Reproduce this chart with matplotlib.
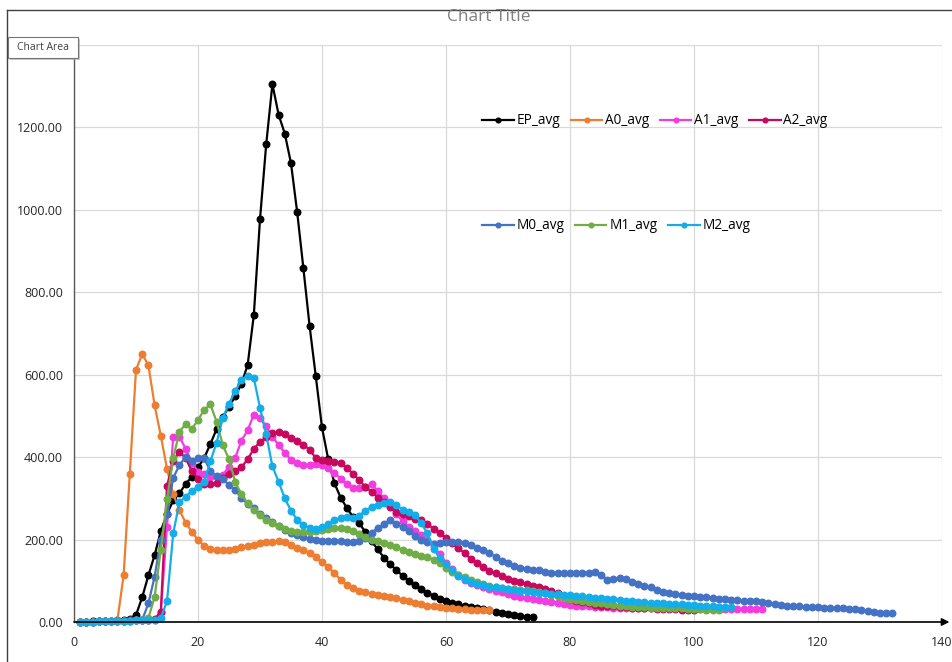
import numpy as np
import matplotlib
matplotlib.use("Agg")
import matplotlib.pyplot as plt
from matplotlib.lines import Line2D
from matplotlib.patches import Rectangle

plt.rcParams['font.family'] = ['Open Sans', 'DejaVu Sans']

# Series values (x = 1, 2, 3, ... for every series)
ep_avg = [0, 1, 2, 2, 3, 3, 4, 5, 8, 17, 60, 113, 162, 221, 262, 295, 312, 335, 352, 375,
          398, 432, 468, 498, 522, 548, 578, 623, 744, 977, 1159, 1305, 1231, 1185, 1113, 994,
          858, 718, 596, 472, 395, 337, 302, 277, 255, 240, 218, 196, 176, 156, 140, 126, 112,
          100, 89, 79, 71, 64, 57, 52, 47, 43, 40, 37, 34, 31, 28, 25, 22, 19, 17, 15, 13, 11]

a0_avg = [0, 1, 1, 2, 2, 3, 4, 113, 359, 612, 650, 623, 526, 452, 372, 310, 272, 241, 219,
          199, 185, 177, 174, 174, 175, 178, 181, 185, 188, 191, 193, 195, 196, 193, 187, 179,
          174, 168, 158, 146, 134, 118, 103, 90, 82, 76, 72, 68, 66, 64, 61, 58, 54, 50, 46,
          43, 40, 38, 36, 34, 33, 32, 31, 30, 30, 29, 29]

a1_avg = [0, 1, 1, 2, 2, 3, 3, 3, 4, 4, 5, 5, 6, 25, 230, 450, 450, 420, 387, 365, 360, 353,
          353, 357, 377, 398, 440, 465, 503, 494, 475, 449, 430, 410, 394, 385, 380, 380, 383,
          380, 373, 362, 348, 334, 326, 324, 328, 334, 318, 300, 282, 262, 244, 231, 220, 211,
          198, 184, 164, 144, 128, 115, 103, 95, 89, 84, 80, 76, 72, 68, 64, 61, 58, 55, 53,
          50, 48, 46, 44, 42, 40, 39, 38, 37, 36, 36, 35, 35, 35, 34, 34, 34, 34, 33, 33, 33,
          33, 33, 32, 32, 32, 32, 32, 32, 31, 31, 31, 31, 31, 31, 31]

a2_avg = [0, 1, 1, 2, 2, 3, 3, 3, 4, 4, 5, 5, 7, 25, 330, 390, 413, 398, 366, 348, 336, 336,
          338, 350, 360, 366, 375, 395, 420, 437, 448, 458, 462, 455, 446, 438, 430, 418, 398,
          393, 390, 389, 386, 374, 360, 344, 328, 316, 302, 290, 278, 268, 262, 257, 251, 247,
          238, 226, 215, 204, 191, 179, 167, 153, 143, 134, 124, 118, 111, 105, 100, 96, 92,
          88, 86, 81, 76, 70, 63, 56, 52, 48, 45, 42, 40, 39, 38, 37, 36, 35, 34, 34, 33, 32,
          32, 31, 31, 30, 30, 30]

m0_avg = [0, 1, 1, 2, 2, 2, 3, 3, 3, 4, 5, 45, 110, 200, 262, 350, 380, 401, 390, 397, 397,
          366, 355, 346, 333, 320, 302, 286, 276, 262, 252, 242, 232, 223, 216, 211, 207, 202,
          199, 197, 196, 196, 197, 195, 194, 196, 205, 217, 228, 238, 247, 238, 230, 220, 208,
          200, 194, 190, 191, 194, 195, 195, 192, 186, 180, 174, 167, 158, 149, 142, 136, 132,
          129, 127, 125, 122, 120, 120, 119, 118, 118, 119, 120, 121, 114, 103, 104, 106, 104,
          97, 92, 88, 84, 78, 73, 70, 68, 65, 63, 62, 61, 61, 59, 57, 56, 54, 53, 52, 51, 50,
          48, 46, 44, 42, 40, 39, 38, 37, 36, 36, 35, 34, 34, 33, 32, 31, 28, 27, 25, 23, 22, 21]

m1_avg = [0, 1, 1, 2, 2, 2, 3, 3, 3, 4, 5, 10, 60, 175, 298, 397, 462, 480, 468, 490, 515,
          528, 486, 429, 395, 340, 310, 288, 272, 259, 248, 240, 232, 226, 222, 219, 219, 219,
          221, 223, 226, 228, 228, 226, 220, 213, 206, 200, 196, 192, 187, 181, 175, 169, 165,
          161, 157, 151, 143, 130, 122, 115, 108, 102, 96, 91, 87, 84, 82, 80, 79, 78, 77, 76,
          74, 70, 66, 62, 59, 57, 54, 51, 49, 47, 45, 43, 41, 40, 38, 37, 37, 36, 35, 35, 34,
          34, 33, 33, 32, 31, 31, 30, 30, 29]

m2_avg = [0, 1, 1, 2, 2, 2, 3, 3, 3, 4, 4, 5, 5, 10, 50, 215, 290, 304, 318, 328, 340, 390,
          435, 495, 530, 560, 588, 598, 592, 520, 455, 378, 340, 300, 270, 248, 235, 228, 226,
          230, 237, 247, 253, 254, 252, 258, 270, 279, 284, 288, 292, 284, 272, 266, 259, 240,
          215, 178, 155, 140, 126, 112, 104, 98, 93, 89, 86, 84, 82, 80, 78, 76, 75, 73, 71,
          70, 68, 67, 66, 65, 63, 62, 61, 59, 58, 57, 55, 54, 52, 50, 49, 48, 47, 46, 45, 44,
          44, 43, 42, 41, 40, 39, 38, 37, 37, 36]

series_names = ['EP_avg', 'A0_avg', 'A1_avg', 'A2_avg', 'M0_avg', 'M1_avg', 'M2_avg']
series_data = [ep_avg, a0_avg, a1_avg, a2_avg, m0_avg, m1_avg, m2_avg]
series_colors = ['#000000', '#ED7D31', '#F23CE0', '#C8075E', '#4472C4', '#70AD47', '#13AEEA']

x_ticks = [0, 20, 40, 60, 80, 100, 120, 140]
y_ticks = [0, 200, 400, 600, 800, 1000, 1200, 1400]

# Figure
W, H = 953, 662
fig = plt.figure(figsize=(W / 100, H / 100), dpi=100)
ax = fig.add_axes([74 / W, 1 - 622 / H, (942 - 74) / W, (622 - 45) / H])

for name, vals, col in zip(series_names, series_data, series_colors):
    xs = np.arange(1, len(vals) + 1)
    ax.plot(xs, vals, '-o', color=col, lw=1.6, ms=4.7, label=name, clip_on=False)

ax.set_xlim(0, 140)
ax.set_ylim(0, 1400)
ax.set_xticks(x_ticks)
ax.set_yticks(y_ticks)
# the top label (1400.00) sits under the "Chart Area" tooltip in the reference
ax.set_yticklabels([f'{v:.2f}' if v < 1400 else '' for v in y_ticks])
ax.grid(True, color='#D9D9D9', lw=0.9)
ax.set_axisbelow(True)
for s in ['top', 'right', 'bottom']:
    ax.spines[s].set_visible(False)
ax.spines['left'].set_color('#595959')
ax.spines['left'].set_linewidth(1.0)
ax.tick_params(length=0, labelsize=9, colors='#262626', pad=8)
ax.tick_params(axis='x', pad=10)

# x axis with arrow head
ax.annotate('', xy=(141.2, 0), xytext=(0, 0), xycoords='data',
            arrowprops=dict(arrowstyle='-|>', color='black', lw=1.2,
                            mutation_scale=11, shrinkA=0, shrinkB=0),
            annotation_clip=False)

# Legend, two rows placed apart
def leg_handles(idx):
    return [Line2D([], [], color=series_colors[i], lw=1.6, marker='o', ms=3.4) for i in idx]

leg1 = fig.legend(leg_handles(range(4)), series_names[:4], loc='center left',
                  bbox_to_anchor=(470 / W, 1 - 121 / H), ncol=4, frameon=False,
                  fontsize=9.8, handlelength=2.3, handletextpad=0.2, columnspacing=0.8)
leg2 = fig.legend(leg_handles(range(4, 7)), series_names[4:], loc='center left',
                  bbox_to_anchor=(470 / W, 1 - 226 / H), ncol=3, frameon=False,
                  fontsize=9.8, handlelength=2.3, handletextpad=0.2, columnspacing=0.8)

# Title
fig.text(489 / W, 1 - 17 / H, 'Chart Title', ha='center', va='center',
         fontsize=12.5, color='#7F7F7F')

# chart border
fig.add_artist(Line2D([7 / W, 7 / W], [0, 1 - 10 / H], color='#404040', lw=1.0))
fig.add_artist(Line2D([7 / W, 1], [1 - 10 / H, 1 - 10 / H], color='#404040', lw=1.0))

# "Chart Area" tooltip
fig.add_artist(Rectangle((10 / W, 1 - 60 / H), 70 / W, 21 / H, transform=fig.transFigure,
                         facecolor='#A6A6A6', edgecolor='none', alpha=0.6, zorder=9))
fig.add_artist(Rectangle((8 / W, 1 - 58 / H), 70 / W, 21 / H, transform=fig.transFigure,
                         facecolor='white', edgecolor='#767676', lw=0.8, zorder=10))
fig.text(43 / W, 1 - 47.5 / H, 'Chart Area', ha='center', va='center',
         fontsize=7.5, color='#404040', zorder=11)

fig.savefig('out.png', dpi=100)
